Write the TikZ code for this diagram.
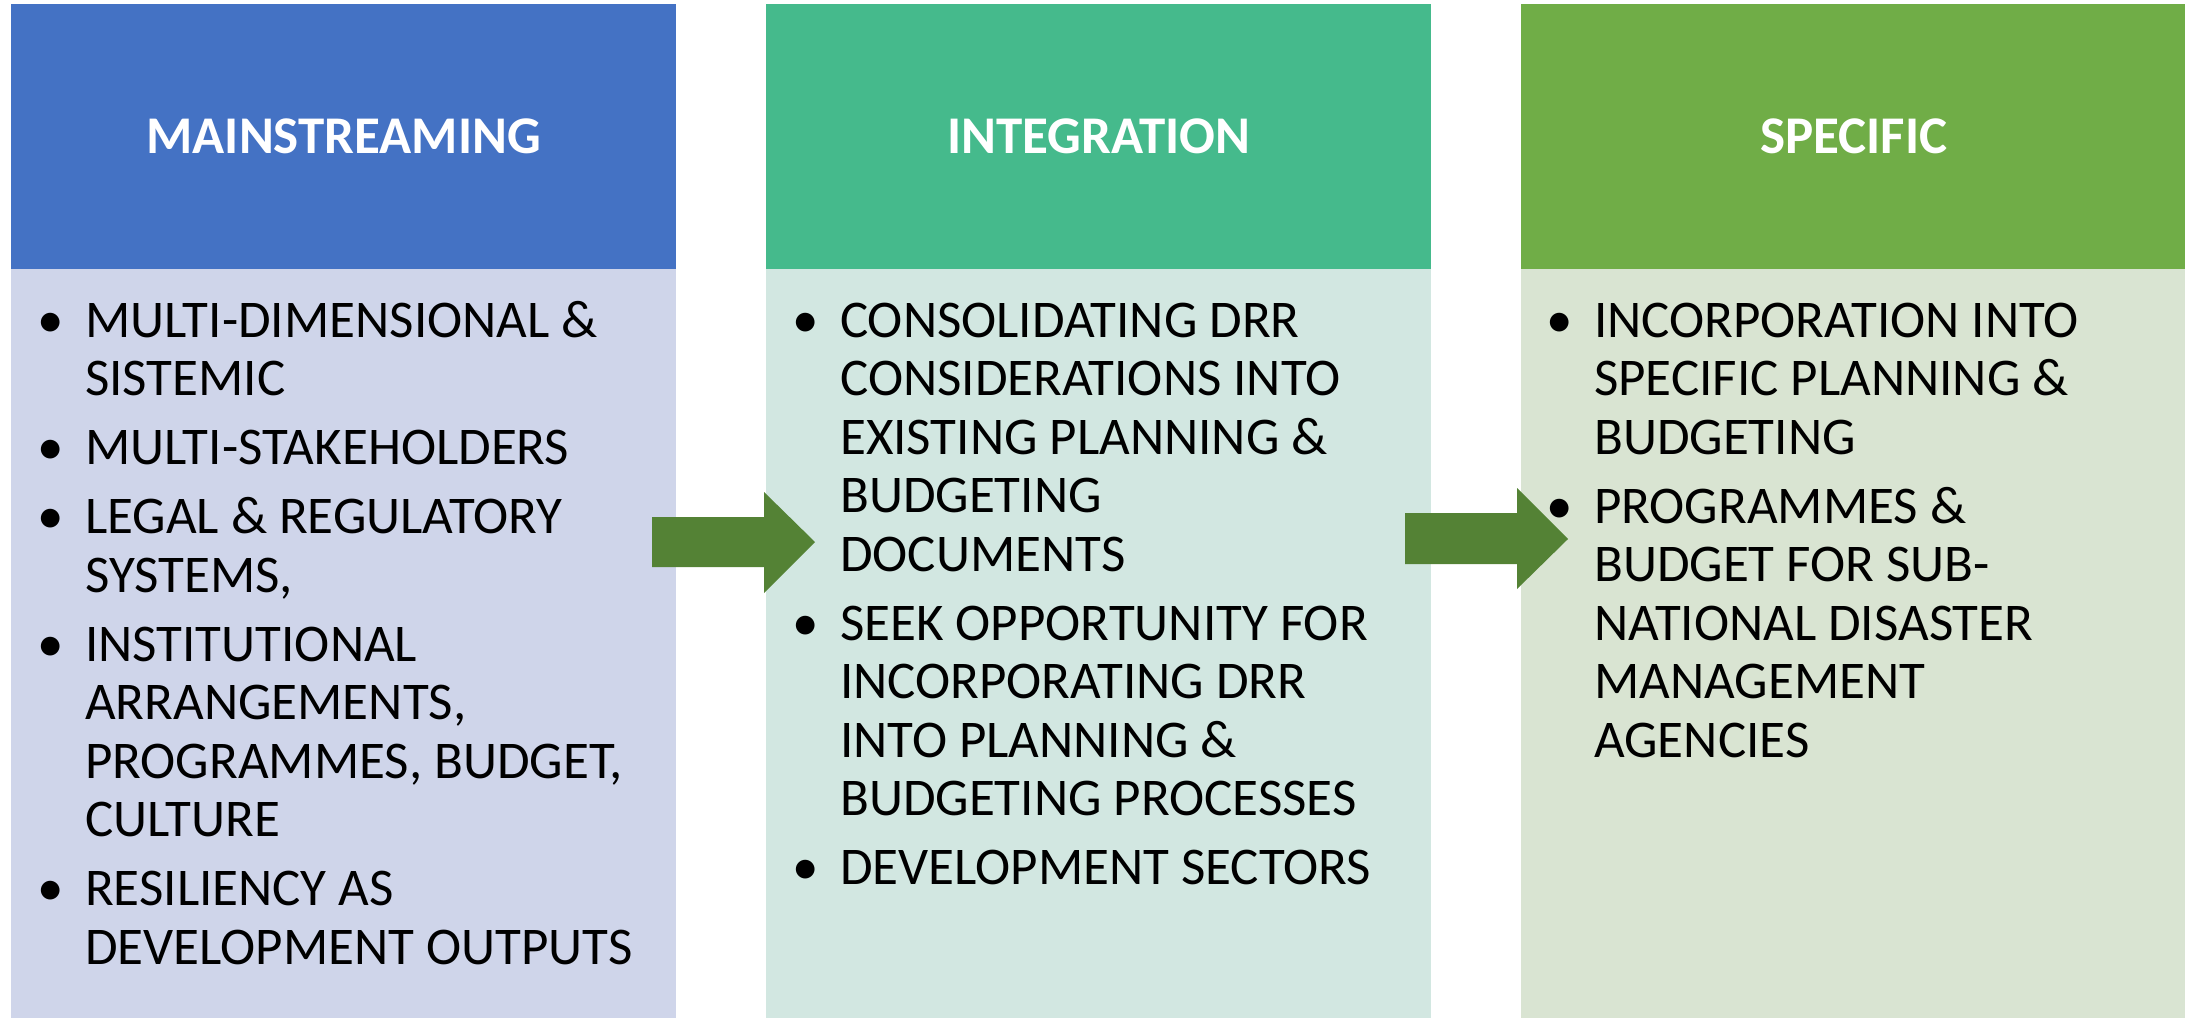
\documentclass[tikz,border=0pt]{standalone}
\usepackage{fontspec}
\setmainfont{Carlito}
\definecolor{hdrA}{HTML}{4472C4}
\definecolor{bodyA}{HTML}{CFD5EA}
\definecolor{hdrB}{HTML}{45BA8C}
\definecolor{bodyB}{HTML}{D2E7E1}
\definecolor{hdrC}{HTML}{70AD47}
\definecolor{bodyC}{HTML}{D9E4D2}
\definecolor{arrowgreen}{HTML}{548235}
\newcommand{\bul}{\makebox[48pt][l]{\textbullet}}
\newcommand{\nl}{\\}
\newcommand{\np}{\\[10.5pt]}
\begin{document}
\begin{tikzpicture}[x=1pt,y=-1pt,
  hdr/.style={inner sep=0pt, minimum width=665pt, minimum height=265pt, anchor=north west,
    text=white, font=\fontsize{53}{60}\selectfont\bfseries},
  bodybox/.style={inner sep=0pt, minimum width=665pt, minimum height=749pt, anchor=north west},
  itemtext/.style={inner sep=0pt, anchor=base west, align=left, font=\fontsize{53}{58.5}\selectfont},
  blockarrow/.style={fill=arrowgreen, draw=none}]
\useasboundingbox (0,0) rectangle (2185,1018);
% headers
\node[hdr, fill=hdrA] (h1) at (11,4) {MAINSTREAMING};
\node[hdr, fill=hdrB] (h2) at (766,4) {INTEGRATION};
\node[hdr, fill=hdrC] (h3) at (1521,4) {SPECIFIC};
% bodies
\node[bodybox, fill=bodyA] (b1) at (11,269) {};
\node[bodybox, fill=bodyB] (b2) at (766,269) {};
\node[bodybox, fill=bodyC] (b3) at (1521,269) {};
% texts
\node[itemtext] (t1) at (37,337) {\begin{tabular}[t]{@{}l@{}l@{}}
\bul & MULTI-DIMENSIONAL \& \nl
 & SISTEMIC \np
\bul & MULTI-STAKEHOLDERS \np
\bul & LEGAL \& REGULATORY \nl
 & SYSTEMS, \np
\bul & INSTITUTIONAL \nl
 & ARRANGEMENTS, \nl
 & PROGRAMMES, BUDGET, \nl
 & CULTURE \np
\bul & RESILIENCY AS \nl
 & DEVELOPMENT OUTPUTS
\end{tabular}};
\node[itemtext] (t2) at (792,337) {\begin{tabular}[t]{@{}l@{}l@{}}
\bul & CONSOLIDATING DRR \nl
 & CONSIDERATIONS INTO \nl
 & EXISTING PLANNING \& \nl
 & BUDGETING \nl
 & DOCUMENTS \np
\bul & SEEK OPPORTUNITY FOR \nl
 & INCORPORATING DRR \nl
 & INTO PLANNING \& \nl
 & BUDGETING PROCESSES \np
\bul & DEVELOPMENT SECTORS
\end{tabular}};
\node[itemtext] (t3) at (1546,337) {\begin{tabular}[t]{@{}l@{}l@{}}
\bul & INCORPORATION INTO \nl
 & SPECIFIC PLANNING \& \nl
 & BUDGETING \np
\bul & PROGRAMMES \& \nl
 & BUDGET FOR SUB- \nl
 & NATIONAL DISASTER \nl
 & MANAGEMENT \nl
 & AGENCIES
\end{tabular}};
% block arrows
\fill[blockarrow] (652,517) -- (764,517) -- (764,492) -- (815,542) -- (764,593) -- (764,567) -- (652,567) -- cycle;
\fill[blockarrow] (1405,513) -- (1517,513) -- (1517,488) -- (1568,539) -- (1517,589) -- (1517,564) -- (1405,564) -- cycle;
\end{tikzpicture}
\end{document}
